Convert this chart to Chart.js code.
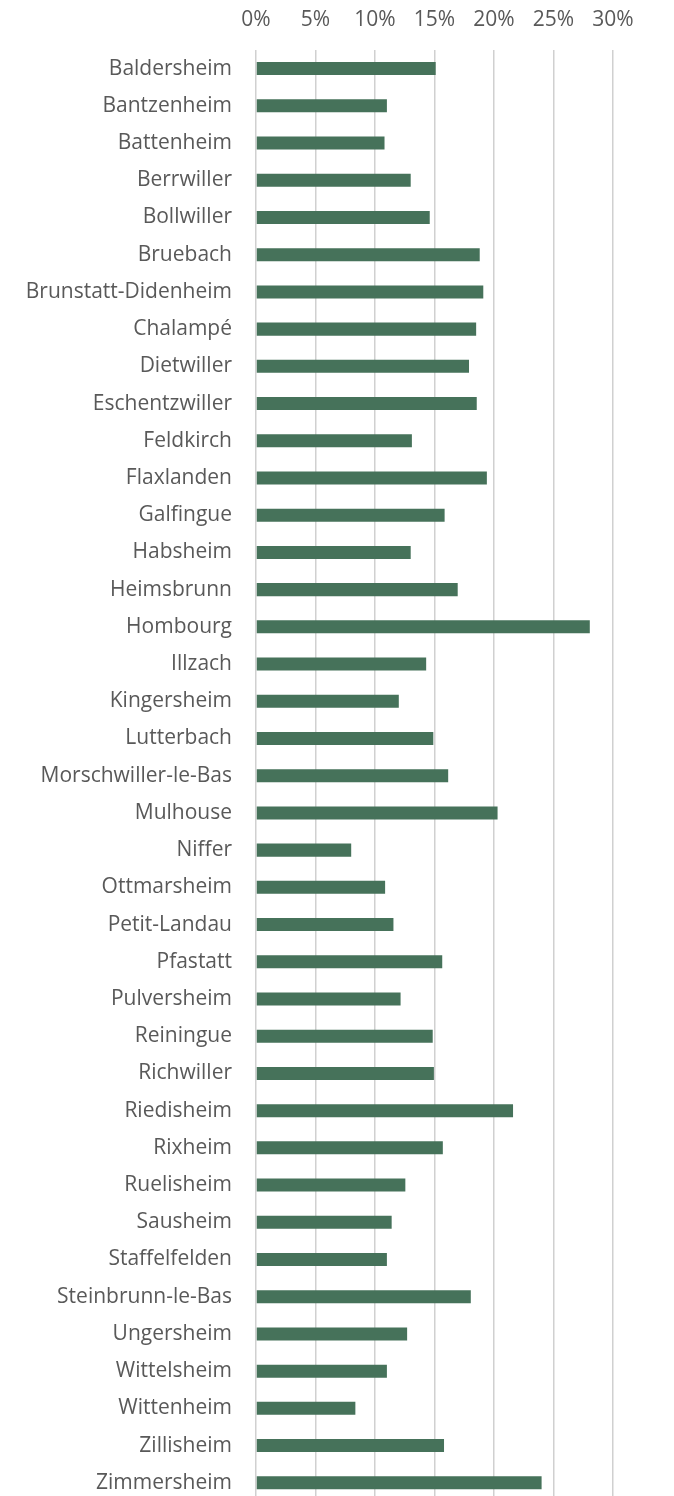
<!DOCTYPE html>
<html lang="fr">
<head>
<meta charset="utf-8">
<title>Communes</title>
<script src="https://cdn.jsdelivr.net/npm/chart.js@4/dist/chart.umd.min.js"></script>
<style>
  html, body { margin: 0; padding: 0; background: #fff; overflow: hidden; }
  #wrap { position: relative; width: 674px; height: 1514px; }
</style>
</head>
<body>
<div id="wrap"><canvas id="chart"></canvas></div>
<script>
'use strict';

// Communes (ordre alphabétique, de haut en bas)
const COMMUNES = ['Baldersheim', 'Bantzenheim', 'Battenheim', 'Berrwiller', 'Bollwiller',
                  'Bruebach', 'Brunstatt-Didenheim', 'Chalampé', 'Dietwiller', 'Eschentzwiller',
                  'Feldkirch', 'Flaxlanden', 'Galfingue', 'Habsheim', 'Heimsbrunn',
                  'Hombourg', 'Illzach', 'Kingersheim', 'Lutterbach', 'Morschwiller-le-Bas',
                  'Mulhouse', 'Niffer', 'Ottmarsheim', 'Petit-Landau', 'Pfastatt',
                  'Pulversheim', 'Reiningue', 'Richwiller', 'Riedisheim', 'Rixheim',
                  'Ruelisheim', 'Sausheim', 'Staffelfelden', 'Steinbrunn-le-Bas', 'Ungersheim',
                  'Wittelsheim', 'Wittenheim', 'Zillisheim', 'Zimmersheim'];

// Valeurs en %
const VALEURS = [15.1, 11.0, 10.8, 13.0, 14.6,
                 18.8, 19.1, 18.5, 17.9, 18.55,
                 13.1, 19.4, 15.85, 13.0, 16.95,
                 28.05, 14.3, 12.0, 14.9, 16.15,
                 20.3, 8.0, 10.85, 11.55, 15.65,
                 12.15, 14.85, 14.95, 21.6, 15.7,
                 12.55, 11.4, 11.0, 18.05, 12.7,
                 11.0, 8.35, 15.8, 24.0];

// Graduations de l'axe horizontal
const GRADUATIONS = [0, 5, 10, 15, 20, 25, 30];

const VERT   = '#46725A';
const GRIS   = '#595959';
const GRILLE = '#d0d0d0';
const POLICE = { family: '"Open Sans", sans-serif', size: 21 };

new Chart(document.getElementById('chart'), {
  type: 'bar',
  data: {
    labels: COMMUNES,
    datasets: [{
      data:               VALEURS,
      backgroundColor:    VERT,
      borderWidth:        0,
      barPercentage:      0.35,
      categoryPercentage: 1.0,
    }],
  },
  options: {
    indexAxis:           'y',
    responsive:          true,
    maintainAspectRatio: false,
    animation:           false,
    layout: {
      padding: { top: 0, right: 61, bottom: 0, left: 0 },
    },
    plugins: {
      legend:  { display: false },
      tooltip: { enabled: false },
    },
    scales: {
      x: {
        position: 'top',
        min: GRADUATIONS[0],
        max: GRADUATIONS[GRADUATIONS.length - 1],
        afterBuildTicks(scale) {
          scale.ticks = GRADUATIONS.map(v => ({ value: v }));
        },
        // Hauteur fixe de la zone des graduations
        afterFit(scale) {
          scale.height = 50;
        },
        grid:   { color: GRILLE, lineWidth: 1.5, drawTicks: false },
        border: { display: false },
        ticks: {
          color:   GRIS,
          font:    POLICE,
          padding: 17,
          callback(val) {
            return val + '%';
          },
        },
      },
      y: {
        // Largeur fixe de la colonne des noms
        afterFit(scale) {
          scale.width = 256;
        },
        grid:   { color: 'rgba(0,0,0,0)', drawOnChartArea: false, tickLength: 24 },
        border: { display: false },
        ticks: {
          color:    GRIS,
          font:     POLICE,
          padding:  0,
          autoSkip: false,
        },
      },
    },
  },
});
</script>
</body>
</html>
